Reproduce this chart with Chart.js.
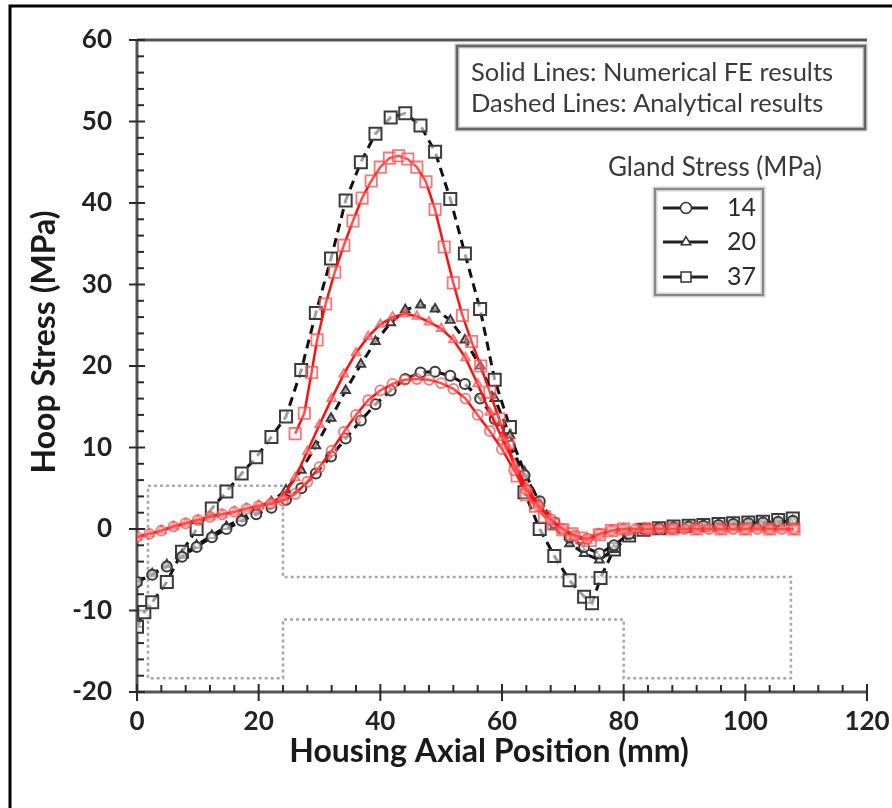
<!DOCTYPE html>
<html><head><meta charset="utf-8">
<script src="https://cdn.jsdelivr.net/npm/chart.js@4.4.1/dist/chart.umd.min.js"></script>
<style>html,body{margin:0;padding:0;background:#fff;}#wrap{position:relative;width:892px;height:808px;}</style>
</head><body><div id="wrap"><canvas id="c" width="892" height="808"></canvas></div>
<script>
// ---- data ----
const xA = [0, 2.5, 4.9, 7.4, 9.8, 12.3, 14.7, 17.2, 19.6, 22.1, 24.5, 27, 29.4, 31.9, 34.3, 36.8, 39.2, 41.7, 44.1, 46.6, 49, 51.5, 53.9, 56.4, 58.8, 61.3, 63.7, 66.2, 68.6, 71.1, 73.5, 76, 78.4, 80.9, 83.3, 85.8, 88.2, 90.7, 93.1, 95.6, 98, 100.5, 102.9, 105.4, 107.8];
const an14 = [-6.5, -5.6, -4.6, -3.4, -2.2, -1.0, 0.0, 1.0, 1.8, 2.6, 3.6, 5.0, 6.8, 8.9, 11.1, 13.3, 15.3, 17.0, 18.4, 19.2, 19.3, 18.8, 17.8, 16.0, 13.5, 10.2, 6.6, 3.4, 0.8, -1.0, -2.2, -3.0, -2.0, -0.6, 0.0, 0.1, 0.2, 0.3, 0.4, 0.5, 0.6, 0.7, 0.8, 0.9, 1.0];
const an20 = [-6.5, -5.5, -4.4, -3.2, -2.0, -0.8, 0.3, 1.3, 2.3, 3.3, 4.8, 7.2, 10.2, 13.6, 17.0, 20.2, 23.0, 25.3, 26.9, 27.5, 27.0, 25.6, 23.2, 20.0, 16.0, 11.5, 7.0, 3.2, 0.3, -1.8, -3.0, -3.8, -2.5, -0.8, 0.0, 0.1, 0.2, 0.3, 0.4, 0.5, 0.6, 0.7, 0.8, 0.9, 1.0];
const xA37 = [0, 1.2, 2.5, 4.9, 7.4, 9.8, 12.3, 14.7, 17.2, 19.6, 22.1, 24.5, 27, 29.4, 31.9, 34.3, 36.8, 39.2, 41.7, 44.1, 46.6, 49, 51.5, 53.9, 56.4, 58.8, 61.3, 63.7, 66.2, 68.6, 71.1, 73.5, 74.8, 76.2, 78.4, 80.9, 83.3, 85.8, 88.2, 90.7, 93.1, 95.6, 98, 100.5, 102.9, 105.4, 107.8];
const an37 = [-12, -10.2, -9, -6.5, -2.8, 0, 2.5, 4.6, 6.8, 8.8, 11.3, 13.8, 19.5, 26.5, 33.2, 40.3, 45.0, 48.5, 50.5, 51.0, 49.5, 46.3, 40.5, 33.8, 27.0, 18.3, 12.5, 4.5, 0.0, -3.3, -6.3, -8.3, -9.1, -6.0, -2.5, -0.8, -0.1, 0.1, 0.3, 0.4, 0.5, 0.6, 0.7, 0.8, 0.9, 1.1, 1.3];
const xF = [0, 2, 4, 6, 8, 10, 12, 14, 16, 18, 20, 22, 24, 26, 28, 30, 32, 34, 36, 38, 40, 42, 44, 46, 48, 50, 52, 54, 56, 58, 60, 62, 64, 66, 68, 70, 72, 74, 76, 78, 80, 82, 84, 86, 88, 90, 92, 94, 96, 98, 100, 102, 104, 106, 108];
const fe14 = [-1, -0.6, -0.2, 0.3, 0.7, 1.1, 1.5, 1.8, 2.1, 2.5, 2.8, 3.1, 3.5, 4.3, 5.8, 7.6, 9.6, 11.9, 14.0, 15.8, 17.0, 17.8, 18.3, 18.4, 18.3, 17.9, 17.2, 16.0, 14.0, 12.0, 9.8, 7.2, 4.8, 2.8, 1.2, 0, -0.8, -1.2, -0.6, -0.2, 0, 0, 0, 0, 0, 0, 0, 0, 0, 0, 0, 0, 0, 0, 0];
const fe20 = [-1, -0.6, -0.2, 0.3, 0.7, 1.1, 1.5, 1.8, 2.1, 2.5, 2.9, 3.3, 4.0, 6.3, 9.5, 12.8, 16.0, 19.0, 21.6, 23.6, 25.1, 26.0, 26.4, 26.1, 25.4, 24.6, 23.2, 21.0, 17.8, 14.3, 11.2, 8.0, 5.2, 3.0, 1.2, -0.1, -1.0, -1.4, -0.6, -0.2, 0, 0, 0, 0, 0, 0, 0, 0, 0, 0, 0, 0, 0, 0, 0];
const xF37 = [26, 27.5, 28.7, 29.6, 31, 32.5, 34, 35.5, 37, 38.5, 40, 41.5, 43, 44.5, 46, 47.5, 49, 50.5, 52, 53.5, 55, 56.5, 58, 59.5, 61, 62.5, 64, 65.5, 67, 68.5, 70, 71.5, 73, 74.5, 76, 78, 80, 84, 88, 92, 96, 100, 104, 108];
const fe37 = [11.7, 14.2, 19.2, 23.2, 27.6, 31.5, 34.8, 37.8, 40.6, 42.7, 44.4, 45.5, 45.8, 45.4, 44.4, 42.6, 39.2, 34.6, 30.2, 26.2, 23, 20, 16.8, 13.5, 10.5, 6.5, 4.2, 2.8, 1.5, 0.6, -0.1, -0.6, -1.1, -1.4, -0.7, -0.2, 0, 0, 0, 0, 0, 0, 0, 0];
const outlineX = [1.8, 24, 24, 107.5, 107.5, 80, 80, 24, 24, 1.8, 1.8];
const outlineY = [5.3, 5.3, -5.9, -5.9, -18.3, -18.3, -11.1, -11.1, -18.3, -18.3, 5.3];
const xTicks = [0, 20, 40, 60, 80, 100, 120];
const yTicks = [-20, -10, 0, 10, 20, 30, 40, 50, 60];
const glandLabels = ['14', '20', '37'];
const glandStyles = ['circle', 'triangle', 'rect'];
const noteLines = ['Solid Lines: Numerical FE results', 'Dashed Lines: Analytical results'];
const legendTitle = 'Gland Stress (MPa)';
const xTitle = 'Housing Axial Position (mm)';
const yTitle = 'Hoop Stress (MPa)';

// ---- build ----
const pts = (xs, ys) => xs.map((x, i) => ({x: x, y: ys[i]}));
const RED = '#ff1010';
function feSet(label, xs, ys, style, r) {
  return {label, data: pts(xs, ys), showLine: true, borderColor: RED, borderWidth: 2.5, tension: 0,
    pointStyle: style, pointRadius: r, pointBorderColor: 'rgba(255,70,70,0.75)', pointBorderWidth: 1.8,
    pointBackgroundColor: 'rgba(255,255,255,0.25)', order: 1};
}
function anSet(label, xs, ys, style, r) {
  return {label, data: pts(xs, ys), showLine: true, borderColor: '#111', borderWidth: 3, borderDash: [9, 6], tension: 0,
    pointStyle: style, pointRadius: r, pointBorderColor: '#3a3a3a', pointBorderWidth: 2,
    pointBackgroundColor: 'rgba(255,255,255,0.6)', order: 2};
}
const datasets = [
  feSet('FE 14', xF, fe14, glandStyles[0], 5),
  feSet('FE 20', xF, fe20, glandStyles[1], 5),
  feSet('FE 37', xF37, fe37, glandStyles[2], 8),
  anSet('Analytical 14', xA, an14, glandStyles[0], 5),
  anSet('Analytical 20', xA, an20, glandStyles[1], 5),
  anSet('Analytical 37', xA37, an37, glandStyles[2], 8.5),
  {label: 'Geometry', data: pts(outlineX, outlineY), showLine: true, borderColor: '#a8a8a8', borderWidth: 2.5,
    borderDash: [3, 3], pointRadius: 0, tension: 0, order: 3}
];

const TICKFONT = {family: 'Lato', size: 26, weight: 'bold'};

const axesPlugin = {
  id: 'axesPlugin',
  beforeDatasetsDraw(chart) {
    const {ctx, scales: {x, y}} = chart;
    ctx.save();
    ctx.strokeStyle = '#555'; ctx.lineWidth = 3; ctx.lineCap = 'butt';
    const L = (x1, y1, x2, y2) => { ctx.beginPath(); ctx.moveTo(x1, y1); ctx.lineTo(x2, y2); ctx.stroke(); };
    const x0 = x.getPixelForValue(0), x1 = x.getPixelForValue(120);
    const y0 = y.getPixelForValue(-20), y1 = y.getPixelForValue(60);
    L(x0, y1, x1, y1);
    L(x0, y0, x0, y1);
    L(x0, y0, x1, y0);
    ctx.strokeStyle = '#2a2a2a'; ctx.lineWidth = 2;
    for (let v = -20; v <= 60; v += 2) {
      const p = y.getPixelForValue(v);
      if (v % 10 === 0) L(x0 - 8, p, x0 + 8, p); else L(x0, p, x0 + 7, p);
    }
    for (let v = 0; v <= 120; v += 4) {
      const p = x.getPixelForValue(v);
      if (v % 20 === 0) L(p, y0 - 8, p, y0 + 9); else L(p, y0 - 7, p, y0);
    }
    ctx.restore();
  },
  afterDraw(chart) {
    const {ctx} = chart;
    ctx.save();
    // outer frame
    ctx.strokeStyle = '#000'; ctx.lineWidth = 3;
    ctx.beginPath(); ctx.moveTo(10, 808); ctx.lineTo(10, 6); ctx.lineTo(892, 6); ctx.stroke();
    // axis titles
    ctx.fillStyle = '#1a1a1a';
    ctx.font = 'bold 32px Lato';
    ctx.textAlign = 'center'; ctx.textBaseline = 'middle';
    ctx.fillText(xTitle, 489, 752);
    ctx.save(); ctx.translate(45, 342); ctx.rotate(-Math.PI / 2); ctx.fillText(yTitle, 0, 0); ctx.restore();
    // note box
    ctx.strokeStyle = '#c8c8c8'; ctx.lineWidth = 5;
    ctx.strokeRect(457, 46, 408, 83);
    ctx.strokeStyle = '#666'; ctx.lineWidth = 2.5;
    ctx.strokeRect(457, 46, 408, 83);
    ctx.fillStyle = '#3a3a3a'; ctx.font = '25.5px Lato'; ctx.textAlign = 'left';
    ctx.fillText(noteLines[0], 471, 73);
    ctx.fillText(noteLines[1], 471, 104);
    // legend title
    ctx.textAlign = 'center';
    ctx.font = '26px Lato';
    ctx.fillText(legendTitle, 715, 168);
    // legend box
    ctx.strokeStyle = '#d0d0d0'; ctx.lineWidth = 5;
    ctx.strokeRect(655, 189, 108, 106);
    ctx.strokeStyle = '#888'; ctx.lineWidth = 2;
    ctx.strokeRect(655, 189, 108, 106);
    const rows = [208, 242, 277];
    for (let i = 0; i < 3; i++) {
      const yy = rows[i];
      ctx.strokeStyle = '#222'; ctx.lineWidth = 3;
      ctx.beginPath(); ctx.moveTo(663, yy); ctx.lineTo(708, yy); ctx.stroke();
      ctx.fillStyle = '#fff'; ctx.strokeStyle = '#333'; ctx.lineWidth = 1.5;
      Chart.helpers.drawPoint(ctx, {pointStyle: glandStyles[i], rotation: 0, radius: i === 2 ? 7 : 5.5, borderWidth: 1.5}, 686, yy);
      ctx.fillStyle = '#2a2a2a'; ctx.textAlign = 'left'; ctx.font = '25px Lato';
      ctx.fillText(glandLabels[i], 727, yy);
    }
    ctx.restore();
  }
};

new Chart(document.getElementById('c'), {
  type: 'scatter',
  data: {datasets},
  options: {
    responsive: false, animation: false, devicePixelRatio: 1,
    layout: {padding: {left: 0, right: 25, top: 40, bottom: 0}},
    plugins: {legend: {display: false}, tooltip: {enabled: false}},
    elements: {line: {fill: false}},
    scales: {
      x: {type: 'linear', min: 0, max: 120,
        afterBuildTicks: s => { s.ticks = xTicks.map(v => ({value: v})); },
        afterFit: s => { s.height = 116; s.paddingLeft = 0; s.paddingRight = 0; },
        grid: {display: false, drawTicks: false}, border: {display: false},
        ticks: {padding: 14, font: TICKFONT, color: '#222', maxRotation: 0, autoSkip: false}},
      y: {type: 'linear', min: -20, max: 60,
        afterBuildTicks: s => { s.ticks = yTicks.map(v => ({value: v})); },
        afterFit: s => { s.width = 137; s.paddingTop = 0; s.paddingBottom = 0; },
        grid: {display: false, drawTicks: false}, border: {display: false},
        ticks: {padding: 25, font: TICKFONT, color: '#222', autoSkip: false}}
    }
  },
  plugins: [axesPlugin]
});
</script></body></html>
